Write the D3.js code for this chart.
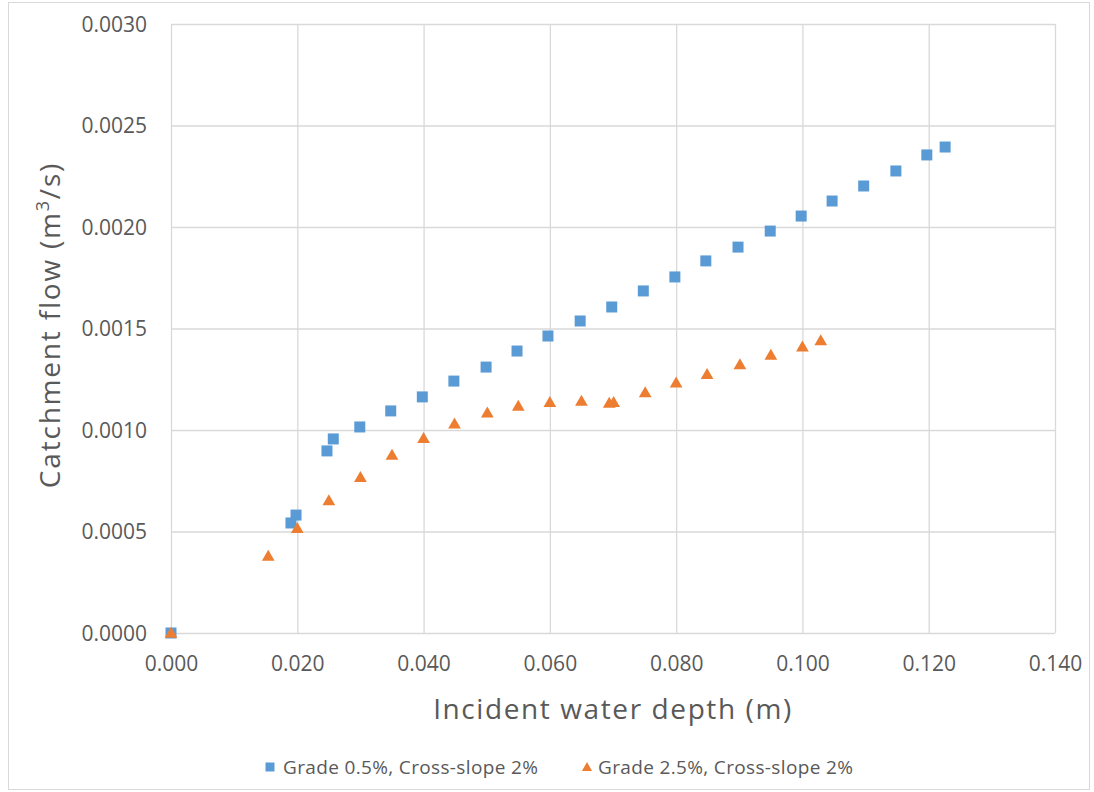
<!DOCTYPE html>
<html><head><meta charset="utf-8">
<script src="https://cdn.jsdelivr.net/npm/d3@7"></script>
<style>
body{margin:0;background:#fff;}
text{font-family:"Open Sans","Segoe UI","Liberation Sans",sans-serif;fill:#595959;}
</style></head>
<body><svg id="c" width="1094" height="792"></svg>
<script>
const seriesNames = ["Grade 0.5%, Cross-slope 2%", "Grade 2.5%, Cross-slope 2%"];
const gradeHalfX = [0, 0.0190, 0.0198, 0.0247, 0.0257, 0.0299, 0.0348, 0.0398, 0.0448, 0.0499, 0.0548, 0.0597, 0.0648, 0.0698, 0.0748, 0.0798, 0.0847, 0.0898, 0.0949, 0.0998, 0.1047, 0.1097, 0.1148, 0.1197, 0.1226];
const gradeHalfY = [0, 0.000542, 0.000581, 0.000897, 0.000956, 0.001015, 0.001094, 0.001163, 0.001241, 0.001310, 0.001389, 0.001463, 0.001537, 0.001606, 0.001685, 0.001754, 0.001833, 0.001901, 0.001980, 0.002054, 0.002128, 0.002202, 0.002276, 0.002355, 0.002394];
const gradeTwoHalfX = [0, 0.0154, 0.0200, 0.0250, 0.0300, 0.0350, 0.0400, 0.0449, 0.0501, 0.0550, 0.0600, 0.0650, 0.0694, 0.0701, 0.0751, 0.0800, 0.0849, 0.0901, 0.0950, 0.1000, 0.1029];
const gradeTwoHalfY = [0, 0.000379, 0.000516, 0.000652, 0.000767, 0.000877, 0.000959, 0.001030, 0.001085, 0.001118, 0.001136, 0.001143, 0.001132, 0.001136, 0.001184, 0.001232, 0.001274, 0.001322, 0.001369, 0.001410, 0.001440];
const xTicks = [0, 0.02, 0.04, 0.06, 0.08, 0.10, 0.12, 0.14];
const yTicks = [0, 0.0005, 0.0010, 0.0015, 0.0020, 0.0025, 0.0030];
const xTitle = "Incident water depth (m)";

const svg = d3.select("#c");
const L = 171, R = 1055, T = 24, B = 633;
const x = d3.scaleLinear().domain([0, 0.14]).range([L, R]);
const y = d3.scaleLinear().domain([0, 0.003]).range([B, T]);

svg.append("rect").attr("x", 8.5).attr("y", 2.5).attr("width", 1081).attr("height", 787)
  .attr("fill", "#fff").attr("stroke", "#d9d9d9");

// grid
const gx = svg.append("g").attr("transform", `translate(0,${B})`)
  .call(d3.axisBottom(x).tickValues(xTicks).tickSize(-(B - T)).tickFormat(d3.format(".3f")));
gx.select(".domain").remove();
gx.selectAll("line").attr("stroke", "#d9d9d9").attr("stroke-width", 1.3);
gx.selectAll("text").attr("font-size", 21).attr("dy", 0).attr("y", 38).style("fill", "#595959")
  .style("font-family", '"Open Sans",sans-serif');

const gy = svg.append("g").attr("transform", `translate(${L},0)`)
  .call(d3.axisLeft(y).tickValues(yTicks).tickSize(-(R - L)).tickFormat(d3.format(".4f")));
gy.select(".domain").remove();
gy.selectAll("line").attr("stroke", "#d9d9d9").attr("stroke-width", 1.3);
gy.selectAll("text").attr("font-size", 21).attr("x", -24).attr("dy", "0.35em").style("fill", "#595959")
  .style("font-family", '"Open Sans",sans-serif');

// axis titles
svg.append("text").attr("x", 613).attr("y", 719)
  .attr("text-anchor", "middle").attr("font-size", 28).attr("letter-spacing", 1.6).text(xTitle);
const yt = svg.append("text").attr("transform", "translate(60,325) rotate(-90)")
  .attr("text-anchor", "middle").attr("font-size", 28).attr("letter-spacing", 1.8);
yt.append("tspan").text("Catchment flow (m");
yt.append("tspan").attr("font-size", 18).attr("dy", -11).text("3");
yt.append("tspan").attr("dy", 11).text("/s)");

const blue = "#5B9BD5", orange = "#ED7D31";
const sq = d3.symbol().type(d3.symbolSquare).size(121);
const tri = d3.symbol().type(d3.symbolTriangle).size(70);

const s1 = gradeHalfX.map((v, i) => [v, gradeHalfY[i]]);
const s2 = gradeTwoHalfX.map((v, i) => [v, gradeTwoHalfY[i]]);

svg.append("g").selectAll("path").data(s1).join("path")
  .attr("d", sq).attr("transform", d => `translate(${x(d[0])},${y(d[1])})`).attr("fill", blue);
svg.append("g").selectAll("path").data(s2).join("path")
  .attr("d", tri).attr("transform", d => `translate(${x(d[0])},${y(d[1]) + 1})`).attr("fill", orange);

// legend
const lg = svg.append("g");
lg.append("path").attr("d", d3.symbol().type(d3.symbolSquare).size(81)).attr("transform", "translate(270,767)").attr("fill", blue);
lg.append("text").attr("x", 283).attr("y", 767).attr("dy", "0.35em").attr("font-size", 19).attr("letter-spacing", 0.35).text(seriesNames[0]);
lg.append("path").attr("d", d3.symbol().type(d3.symbolTriangle).size(45)).attr("transform", "translate(587,768)").attr("fill", orange);
lg.append("text").attr("x", 598).attr("y", 767).attr("dy", "0.35em").attr("font-size", 19).attr("letter-spacing", 0.35).text(seriesNames[1]);
</script></body></html>
